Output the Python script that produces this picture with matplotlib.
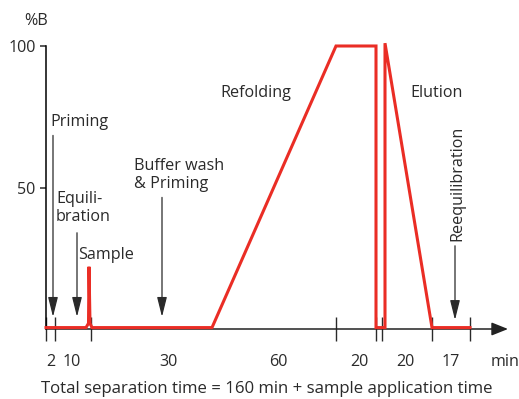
import matplotlib
matplotlib.use('Agg')
import matplotlib.pyplot as plt

plt.rcParams['font.family'] = ['Open Sans', 'DejaVu Sans']

# schematic x units (not to scale), y in %B
curve_x = [0, 40, 42.5, 43, 44, 46, 166, 290, 330, 330, 339, 339, 386, 424]
curve_y = [0.5, 0.5, 2, 22, 2, 0.5, 0.5, 100, 100, 0.5, 0.5, 101, 0.5, 0.5]

tick_x = [0, 9, 45, 290, 330, 336, 386, 424]
seg_label_x = [4.5, 26, 122, 232, 313, 359, 405, 459]
seg_labels = ['2', '10', '30', '60', '20', '20', '17', 'min']

arrow_x = [7, 31, 116, 409]
arrow_top = [68.4, 34, 46.5, 29.4]
arrow_tip = [4.3, 4.3, 4.3, 3.2]

W, H = 519, 399
fig = plt.figure(figsize=(W / 100, H / 100), dpi=100)
ax = fig.add_axes([46 / W, 70 / H, 462 / W, 283 / H])
ax.set_xlim(0, 462)
ax.set_ylim(0, 100)

def px(x, y):
    return x / W, 1 - y / H

ax.plot(curve_x, curve_y, color='#ea2d25', lw=2.2, solid_joinstyle='miter', zorder=3, clip_on=False)

for s in ['top', 'right', 'bottom']:
    ax.spines[s].set_visible(False)
ax.spines['left'].set_linewidth(1.1)
ax.spines['left'].set_bounds(0, 100)
ax.annotate('', xy=(462, 0), xytext=(0, 0),
            arrowprops=dict(arrowstyle='-|>,head_length=1.0,head_width=0.4', lw=1.1,
                            color='#222222', shrinkA=0, shrinkB=0, mutation_scale=10),
            annotation_clip=False, zorder=2)

fs = 11.6
c = '#2a2a2a'

ax.set_yticks([50, 100])
ax.set_yticklabels(['50', '100'])
ax.tick_params(axis='y', direction='out', length=4.5, width=1.1, pad=3, labelsize=fs, colors=c)

ax.set_xticks(tick_x)
ax.set_xticklabels([])
ax.tick_params(axis='x', which='major', direction='inout', length=17, width=1, colors=c)
ax.set_xticks(seg_label_x, minor=True)
ax.set_xticklabels(seg_labels, minor=True)
ax.tick_params(axis='x', which='minor', length=0, pad=18, labelsize=fs, labelcolor=c)

for x, top, tip in zip(arrow_x, arrow_top, arrow_tip):
    ax.annotate('', xy=(x, tip), xytext=(x, top),
                arrowprops=dict(arrowstyle='-|>,head_length=1.2,head_width=0.3', lw=0.9,
                                color=c, shrinkA=0, shrinkB=0, mutation_scale=10))

fig.text(*px(36, 21), '%B', ha='center', va='center', fontsize=fs, color=c)
fig.text(*px(50, 122), 'Priming', ha='left', va='center', fontsize=fs, color=c)
fig.text(*px(56, 208), 'Equili-\nbration', ha='left', va='center', fontsize=fs, color=c,
         linespacing=1.2)
fig.text(*px(78, 255), 'Sample', ha='left', va='center', fontsize=fs, color=c)
fig.text(*px(134, 175), 'Buffer wash\n& Priming', ha='left', va='center', fontsize=fs, color=c,
         linespacing=1.2)
fig.text(*px(256, 93), 'Refolding', ha='center', va='center', fontsize=fs, color=c)
fig.text(*px(437, 93), 'Elution', ha='center', va='center', fontsize=fs, color=c)
fig.text(*px(457, 183), 'Reequilibration', ha='center', va='center', rotation=90,
         fontsize=fs, color=c)
fig.text(*px(267, 389), 'Total separation time = 160 min + sample application time',
         ha='center', va='center', fontsize=12.1, color=c)

fig.savefig('out.png', dpi=100)
